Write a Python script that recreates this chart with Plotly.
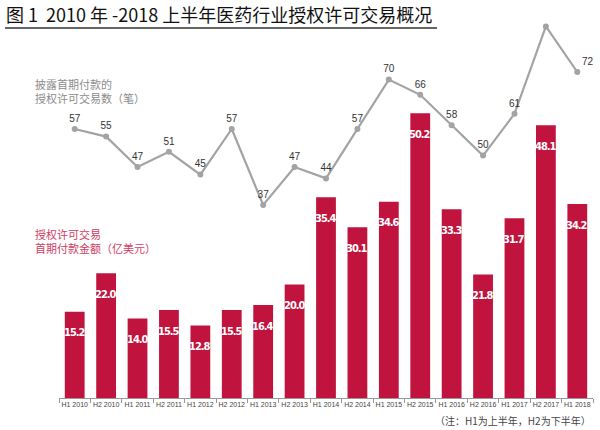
import plotly.graph_objects as go

categories = ["H1 2010", "H2 2010", "H1 2011", "H2 2011", "H1 2012", "H2 2012",
              "H1 2013", "H2 2013", "H1 2014", "H2 2014", "H1 2015", "H2 2015",
              "H1 2016", "H2 2016", "H1 2017", "H2 2017", "H1 2018"]
amounts = [15.2, 22.0, 14.0, 15.5, 12.8, 15.5, 16.4, 20.0, 35.4, 30.1, 34.6, 50.2,
           33.3, 21.8, 31.7, 48.1, 34.2]
deals = [57, 55, 47, 51, 45, 57, 37, 47, 44, 57, 70, 66, 58, 50, 61, 84, 72]

W, H = 600, 430
L, R, T, B = 59, 7, 20, 32
plot_w = W - L - R
plot_h = H - T - B

def px_x(px):
    return (px - L) / plot_w

def px_y(py):
    return (H - B - py) / plot_h

BAR_COLOR = "#C0143E"
LINE_COLOR = "#A3A3A3"
CJK = "Noto Sans CJK SC, Noto Sans, sans-serif"
NARROW = "DejaVu Sans Condensed, DejaVu Sans, sans-serif"

fig = go.Figure()
fig.add_trace(go.Bar(
    x=categories, y=amounts, marker=dict(color=BAR_COLOR, line=dict(width=0)),
    width=0.63, yaxis="y", hoverinfo="skip", showlegend=False,
))

text_pos = ["top center"] * (len(deals) - 1) + ["top right"]
fig.add_trace(go.Scatter(
    x=categories, y=deals, yaxis="y2", mode="lines+markers+text",
    line=dict(color=LINE_COLOR, width=2.2),
    marker=dict(color=LINE_COLOR, size=6),
    text=[str(v) for v in deals], textposition=text_pos,
    textfont=dict(family="Liberation Sans, Arial, sans-serif", size=10, color="#333333"),
    hoverinfo="skip", showlegend=False,
))

annotations = []
for c, v in zip(categories, amounts):
    annotations.append(dict(
        x=c, y=v, xref="x", yref="y", yanchor="middle", xanchor="center",
        yshift=-21, showarrow=False,
        text=f'<span style="letter-spacing:-1px;font-stretch:condensed">{v:.1f}</span>',
        font=dict(family=NARROW, size=11, color="white", weight="bold"),
    ))

# Title
annotations.append(dict(
    x=px_x(4), y=px_y(14), xref="paper", yref="paper", xanchor="left", yanchor="middle",
    showarrow=False, text="图 1  2010 年 -2018 上半年医药行业授权许可交易概况",
    font=dict(family=CJK, size=18, color="#111111"),
))
# Series captions
annotations.append(dict(
    x=px_x(33), y=px_y(91), xref="paper", yref="paper", xanchor="left", yanchor="middle",
    showarrow=False, align="left",
    text="披露首期付款的<br>授权许可交易数（笔）",
    font=dict(family=CJK, size=11, color="#8C8C8C"),
))
annotations.append(dict(
    x=px_x(33), y=px_y(241), xref="paper", yref="paper", xanchor="left", yanchor="middle",
    showarrow=False, align="left",
    text="授权许可交易<br>首期付款金额（亿美元）",
    font=dict(family=CJK, size=11, color="#D23C64"),
))
# Footnote
annotations.append(dict(
    x=px_x(593), y=px_y(420), xref="paper", yref="paper", xanchor="right", yanchor="middle",
    showarrow=False, text="（注：H1为上半年，H2为下半年）",
    font=dict(family=CJK, size=10, color="#444444"),
))

shapes = [dict(
    type="line", xref="paper", yref="paper",
    x0=px_x(5), x1=px_x(437), y0=px_y(28), y1=px_y(28),
    line=dict(color="#333333", width=1.5),
)]

fig.update_layout(
    width=W, height=H,
    margin=dict(l=L, r=R, t=T, b=B, autoexpand=False),
    paper_bgcolor="white", plot_bgcolor="white",
    bargap=0.37,
    xaxis=dict(
        type="category", range=[-0.5, len(categories) - 0.5],
        showline=True, linecolor="#999999", linewidth=1,
        ticks="outside", tickson="boundaries", ticklen=4, tickcolor="#999999",
        tickangle=0, automargin=False,
        tickfont=dict(family="Liberation Sans, Arial, sans-serif", size=7, color="#444444"),
        showgrid=False, zeroline=False, fixedrange=True,
    ),
    yaxis=dict(range=[0, plot_h / 5.67], visible=False, showgrid=False, zeroline=False,
               fixedrange=True),
    yaxis2=dict(range=[-(398 - 345.6) / 3.8, (345.6 - T) / 3.8], overlaying="y",
                visible=False, showgrid=False, zeroline=False, fixedrange=True),
    annotations=annotations,
    shapes=shapes,
)

fig.write_html(
    "out.html",
    config={"displayModeBar": False, "staticPlot": True},
    post_script="document.body.style.margin='0';document.body.style.overflow='hidden';",
)
